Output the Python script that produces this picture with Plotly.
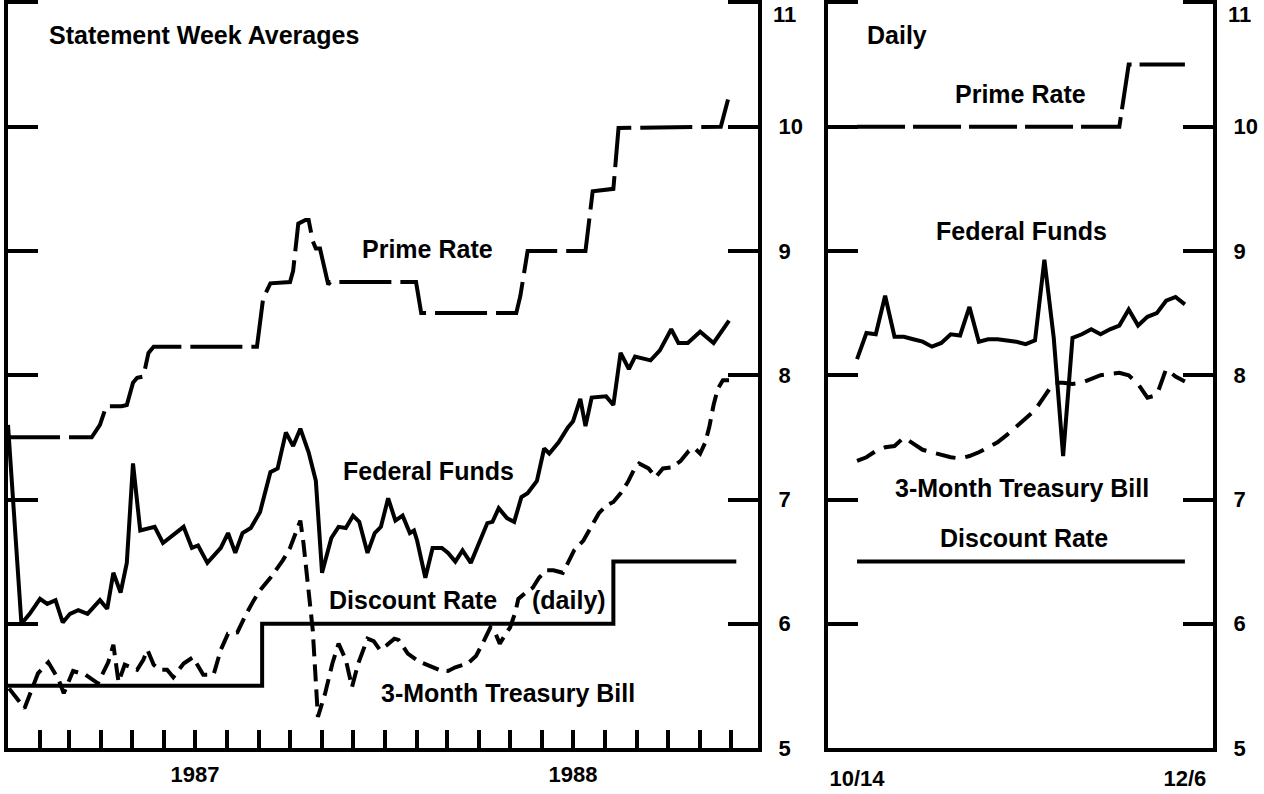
import plotly.graph_objects as go

# ---------------- Left panel: statement week averages ----------------
ff_dates = [
    "1987-01-01", "1987-01-14", "1987-01-22", "1987-02-01", "1987-02-08",
    "1987-02-16", "1987-02-23", "1987-03-02", "1987-03-10", "1987-03-19",
    "1987-03-31", "1987-04-07", "1987-04-13", "1987-04-20", "1987-04-26",
    "1987-05-02", "1987-05-09", "1987-05-23", "1987-05-31", "1987-06-20",
    "1987-06-28", "1987-07-04", "1987-07-13", "1987-07-26", "1987-08-02",
    "1987-08-09", "1987-08-16", "1987-08-24", "1987-09-02", "1987-09-12",
    "1987-09-19", "1987-09-27", "1987-10-04", "1987-10-11", "1987-10-19",
    "1987-10-26", "1987-11-01", "1987-11-10", "1987-11-17", "1987-11-24",
    "1987-12-01", "1987-12-07", "1987-12-15", "1987-12-22", "1987-12-28",
    "1988-01-04", "1988-01-11", "1988-01-18", "1988-01-25", "1988-01-29",
    "1988-02-01", "1988-02-09", "1988-02-16", "1988-02-25", "1988-03-02",
    "1988-03-09", "1988-03-16", "1988-03-24", "1988-04-02", "1988-04-09",
    "1988-04-14", "1988-04-20", "1988-04-28", "1988-05-05", "1988-05-12",
    "1988-05-18", "1988-05-27", "1988-06-03", "1988-06-08", "1988-06-17",
    "1988-06-26", "1988-07-01", "1988-07-08", "1988-07-13", "1988-07-19",
    "1988-08-02", "1988-08-09", "1988-08-16", "1988-08-24", "1988-08-30",
    "1988-09-14", "1988-09-23", "1988-10-04", "1988-10-11", "1988-10-20",
    "1988-11-01", "1988-11-14", "1988-11-19", "1988-11-29",
]
ff_vals = [
    7.60, 6.00, 6.08, 6.20, 6.16, 6.19, 6.01, 6.08, 6.11, 6.08,
    6.19, 6.12, 6.41, 6.25, 6.49, 7.29, 6.75, 6.78, 6.65, 6.78,
    6.61, 6.63, 6.49, 6.61, 6.73, 6.57, 6.73, 6.77, 6.90, 7.22,
    7.25, 7.54, 7.43, 7.57, 7.38, 7.15, 6.41, 6.69, 6.78, 6.77,
    6.87, 6.82, 6.57, 6.73, 6.78, 7.01, 6.83, 6.87, 6.73, 6.75,
    6.67, 6.37, 6.61, 6.61, 6.57, 6.50, 6.59, 6.49, 6.67, 6.81,
    6.82, 6.93, 6.85, 6.82, 7.02, 7.05, 7.15, 7.41, 7.37, 7.46,
    7.58, 7.63, 7.81, 7.59, 7.82, 7.83, 7.76, 8.18, 8.05, 8.15,
    8.12, 8.20, 8.37, 8.26, 8.26, 8.35, 8.26, 8.32, 8.44,
]

tb_dates = [
    "1987-01-02", "1987-01-17", "1987-01-30", "1987-02-09", "1987-02-19",
    "1987-02-24", "1987-03-05", "1987-03-17", "1987-03-29", "1987-04-08",
    "1987-04-13", "1987-04-18", "1987-04-24", "1987-05-01", "1987-05-06",
    "1987-05-12", "1987-05-16", "1987-05-22", "1987-05-28", "1987-06-04",
    "1987-06-10", "1987-06-20", "1987-06-29", "1987-07-09", "1987-07-19",
    "1987-07-26", "1987-08-02", "1987-08-11", "1987-08-19", "1987-08-27",
    "1987-09-02", "1987-09-12", "1987-09-24", "1987-10-01", "1987-10-08",
    "1987-10-11", "1987-10-14", "1987-10-19", "1987-10-23", "1987-10-28",
    "1987-11-04", "1987-11-11", "1987-11-17", "1987-11-24", "1987-11-30",
    "1987-12-06", "1987-12-15", "1987-12-21", "1987-12-27", "1988-01-03",
    "1988-01-10", "1988-01-14", "1988-01-23", "1988-02-02", "1988-02-11",
    "1988-02-22", "1988-03-02", "1988-03-09", "1988-03-21", "1988-03-29",
    "1988-04-05", "1988-04-12", "1988-04-17", "1988-04-21", "1988-04-27",
    "1988-05-01", "1988-05-06", "1988-05-09", "1988-05-16", "1988-05-23",
    "1988-05-29", "1988-06-05", "1988-06-12", "1988-06-21", "1988-06-26",
    "1988-07-02", "1988-07-11", "1988-07-18", "1988-07-26", "1988-08-02",
    "1988-08-09", "1988-08-16", "1988-08-23", "1988-08-29", "1988-09-03",
    "1988-09-12", "1988-09-19", "1988-09-26", "1988-10-05", "1988-10-13",
    "1988-10-21", "1988-10-27", "1988-11-01", "1988-11-06", "1988-11-10",
    "1988-11-14", "1988-11-18", "1988-11-23", "1988-11-29",
]
tb_vals = [
    5.48, 5.32, 5.60, 5.69, 5.55, 5.44, 5.62, 5.59, 5.52, 5.69,
    5.83, 5.53, 5.67, 5.65, 5.63, 5.71, 5.79, 5.67, 5.63, 5.63,
    5.57, 5.68, 5.73, 5.59, 5.59, 5.79, 5.92, 5.93, 6.07, 6.19,
    6.27, 6.37, 6.51, 6.61, 6.75, 6.83, 6.65, 6.29, 5.95, 5.25,
    5.44, 5.68, 5.84, 5.71, 5.49, 5.68, 5.88, 5.86, 5.79, 5.83,
    5.88, 5.87, 5.76, 5.70, 5.67, 5.63, 5.62, 5.65, 5.68, 5.74,
    5.85, 5.97, 5.92, 5.84, 5.92, 5.97, 6.09, 6.20, 6.25, 6.29,
    6.37, 6.43, 6.43, 6.41, 6.49, 6.59, 6.67, 6.77, 6.89, 6.95,
    6.98, 7.05, 7.14, 7.24, 7.29, 7.25, 7.18, 7.25, 7.26, 7.31,
    7.39, 7.41, 7.37, 7.46, 7.59, 7.76, 7.89, 7.96, 7.96,
]

prime_dates = [
    "1987-01-01", "1987-03-23", "1987-03-31", "1987-04-06", "1987-04-21",
    "1987-04-26", "1987-05-02", "1987-05-06", "1987-05-12", "1987-05-17",
    "1987-05-22", "1987-08-30", "1987-09-05", "1987-09-12", "1987-10-01",
    "1987-10-04", "1987-10-09", "1987-10-16", "1987-10-19", "1987-10-23",
    "1987-10-26", "1987-10-30", "1987-11-07", "1987-11-09", "1988-01-31",
    "1988-02-05", "1988-05-07", "1988-05-11", "1988-05-18", "1988-07-13",
    "1988-07-20", "1988-08-09", "1988-08-14", "1988-11-21", "1988-11-28",
]
prime_vals = [
    7.50, 7.50, 7.60, 7.75, 7.75, 7.76, 7.94, 7.98, 7.99, 8.18,
    8.23, 8.23, 8.62, 8.74, 8.75, 8.84, 9.22, 9.25, 9.25, 9.08,
    9.02, 9.02, 8.73, 8.75, 8.75, 8.50, 8.50, 8.64, 9.00, 9.00,
    9.48, 9.50, 9.99, 10.00, 10.22,
]

disc_dates = ["1987-01-01", "1987-09-04", "1988-08-09", "1988-12-06"]
disc_vals = [5.5, 6.0, 6.5, 6.5]

month_tick_dates = [
    "1987-02-01", "1987-03-01", "1987-04-01", "1987-05-01", "1987-06-01",
    "1987-07-01", "1987-08-01", "1987-09-01", "1987-10-01", "1987-11-01",
    "1987-12-01", "1988-01-01", "1988-02-01", "1988-03-01", "1988-04-01",
    "1988-05-01", "1988-06-01", "1988-07-01", "1988-08-01", "1988-09-01",
    "1988-10-01", "1988-11-01", "1988-12-01",
]
month_tick_labels = [
    "", "", "", "", "", "1987", "", "", "", "", "", "",
    "", "", "", "", "", "1988", "", "", "", "", "",
]

# ---------------- Right panel: daily ----------------
daily_days = [
    "10/14", "10/17", "10/18", "10/19", "10/20", "10/21", "10/24", "10/25",
    "10/26", "10/27", "10/28", "10/31", "11/1", "11/2", "11/3", "11/4",
    "11/7", "11/8", "11/9", "11/10", "11/14", "11/15", "11/16", "11/17",
    "11/18", "11/21", "11/22", "11/23", "11/25", "11/28", "11/29", "11/30",
    "12/1", "12/2", "12/5", "12/6",
]
daily_ff = [
    8.13, 8.34, 8.33, 8.64, 8.31, 8.31, 8.29, 8.27, 8.23, 8.26,
    8.33, 8.32, 8.55, 8.27, 8.29, 8.29, 8.28, 8.27, 8.25, 8.28,
    8.93, 8.30, 7.35, 8.30, 8.33, 8.37, 8.33, 8.37, 8.40, 8.53,
    8.40, 8.47, 8.50, 8.60, 8.63, 8.57,
]
daily_tb = [
    7.31, 7.34, 7.39, 7.42, 7.43, 7.50, 7.45, 7.40, 7.38, 7.36,
    7.34, 7.33, 7.35, 7.38, 7.42, 7.46, 7.52, 7.59, 7.65, 7.72,
    7.83, 7.94, 7.94, 7.93, 7.94, 7.97, 8.00, 8.01, 8.02, 8.00,
    7.93, 7.82, 7.84, 8.05, 7.99, 7.95,
]
daily_prime = [
    10.0, 10.0, 10.0, 10.0, 10.0, 10.0, 10.0, 10.0, 10.0, 10.0,
    10.0, 10.0, 10.0, 10.0, 10.0, 10.0, 10.0, 10.0, 10.0, 10.0,
    10.0, 10.0, 10.0, 10.0, 10.0, 10.0, 10.0, 10.0, 10.0, 10.5,
    10.5, 10.5, 10.5, 10.5, 10.5, 10.5,
]
daily_disc = [
    6.5, 6.5, 6.5, 6.5, 6.5, 6.5, 6.5, 6.5, 6.5, 6.5,
    6.5, 6.5, 6.5, 6.5, 6.5, 6.5, 6.5, 6.5, 6.5, 6.5,
    6.5, 6.5, 6.5, 6.5, 6.5, 6.5, 6.5, 6.5, 6.5, 6.5,
    6.5, 6.5, 6.5, 6.5, 6.5, 6.5,
]

y_ticks = [5, 6, 7, 8, 9, 10, 11]
y_tick_labels = ["5", "6", "7", "8", "9", "10", ""]   # "11" drawn just below the top edge
top_label = "11"

FONT = "Liberation Sans"
BLACK = "#000000"
LW = 4

fig = go.Figure()

# left panel traces
fig.add_trace(go.Scatter(x=prime_dates, y=prime_vals, mode="lines",
                         line=dict(color=BLACK, width=LW, dash="52px,9px"),
                         xaxis="x", yaxis="y", showlegend=False))
fig.add_trace(go.Scatter(x=ff_dates, y=ff_vals, mode="lines",
                         line=dict(color=BLACK, width=LW),
                         xaxis="x", yaxis="y", showlegend=False))
fig.add_trace(go.Scatter(x=tb_dates, y=tb_vals, mode="lines",
                         line=dict(color=BLACK, width=LW, dash="17px,8px"),
                         xaxis="x", yaxis="y", showlegend=False))
fig.add_trace(go.Scatter(x=disc_dates, y=disc_vals, mode="lines",
                         line=dict(color=BLACK, width=LW, shape="hv"),
                         xaxis="x", yaxis="y", showlegend=False))

# right panel traces
fig.add_trace(go.Scatter(x=daily_days, y=daily_prime, mode="lines",
                         line=dict(color=BLACK, width=LW, dash="48px,8px"),
                         xaxis="x2", yaxis="y2", showlegend=False))
fig.add_trace(go.Scatter(x=daily_days, y=daily_ff, mode="lines",
                         line=dict(color=BLACK, width=LW),
                         xaxis="x2", yaxis="y2", showlegend=False))
fig.add_trace(go.Scatter(x=daily_days, y=daily_tb, mode="lines",
                         line=dict(color=BLACK, width=LW, dash="20px,10px"),
                         xaxis="x2", yaxis="y2", showlegend=False))
fig.add_trace(go.Scatter(x=daily_days, y=daily_disc, mode="lines",
                         line=dict(color=BLACK, width=LW),
                         xaxis="x2", yaxis="y2", showlegend=False))

tickfont = dict(family=FONT, size=22, color=BLACK, weight="bold")

yaxis_common = dict(
    range=[5, 11.02], tickvals=y_ticks, ticktext=y_tick_labels,
    side="right", ticks="inside", ticklen=30, tickwidth=4, tickcolor=BLACK,
    showline=True, linewidth=4, linecolor=BLACK, mirror="ticks",
    showgrid=False, zeroline=False, tickfont=tickfont,
    ticklabelstandoff=12, ticklabeloverflow="allow", fixedrange=True,
    automargin=False,
)

fig.update_layout(
    width=1264, height=794,
    margin=dict(l=8, r=51, t=0, b=46, autoexpand=False),
    paper_bgcolor="white", plot_bgcolor="white",
    xaxis=dict(
        domain=[0, 0.6224], type="date",
        range=["1987-01-01", "1988-12-27"],
        tickvals=month_tick_dates, ticktext=month_tick_labels,
        ticks="inside", ticklen=18, tickwidth=4, tickcolor=BLACK,
        showline=True, linewidth=4, linecolor=BLACK, mirror=False,
        showgrid=False, zeroline=False, tickfont=tickfont,
        ticklabelstandoff=4, anchor="y", fixedrange=True, automargin=False,
    ),
    yaxis=dict(anchor="x", **yaxis_common),
    xaxis2=dict(
        domain=[0.6805, 1.0], type="category",
        range=[-3.1, 38.0],
        tickvals=["10/14", "12/6"], ticktext=["10/14", "12/6"],
        ticks="", showline=True, linewidth=4, linecolor=BLACK, mirror=False,
        showgrid=False, zeroline=False, tickfont=tickfont,
        ticklabelstandoff=8, anchor="y2", fixedrange=True, automargin=False,
    ),
    yaxis2=dict(anchor="x2", **yaxis_common),
)

label_font = dict(family=FONT, size=25, color=BLACK, weight="bold")

annotations = [
    dict(x="1987-02-08", y=10.74, xref="x", yref="y", text="Statement Week Averages", xanchor="left"),
    dict(x="1988-02-11", y=9.02, xref="x", yref="y", text="Prime Rate", xanchor="center"),
    dict(x="1988-02-12", y=7.23, xref="x", yref="y", text="Federal Funds", xanchor="center"),
    dict(x="1988-01-28", y=6.19, xref="x", yref="y", text="Discount Rate", xanchor="center"),
    dict(x="1988-06-27", y=6.19, xref="x", yref="y", text="(daily)", xanchor="center"),
    dict(x="1988-04-29", y=5.44, xref="x", yref="y", text="3-Month Treasury Bill", xanchor="center"),
    dict(x=0.85, y=10.74, xref="x2", yref="y2", text="Daily", xanchor="left"),
    dict(x=17.5, y=10.26, xref="x2", yref="y2", text="Prime Rate", xanchor="center"),
    dict(x=17.6, y=9.16, xref="x2", yref="y2", text="Federal Funds", xanchor="center"),
    dict(x=17.6, y=7.09, xref="x2", yref="y2", text="3-Month Treasury Bill", xanchor="center"),
    dict(x=17.8, y=6.69, xref="x2", yref="y2", text="Discount Rate", xanchor="center"),
]
for a in annotations:
    a.update(showarrow=False, yanchor="middle", font=label_font)

# top "11" labels for both panels (kept fully inside the page)
for xr, yr in (("x domain", "y"), ("x2 domain", "y2")):
    annotations.append(dict(x=1, y=11, xref=xr, yref=yr, text=top_label,
                            xanchor="left", yanchor="top", xshift=13, yshift=2,
                            showarrow=False, font=tickfont))

fig.update_layout(annotations=annotations)

fig.write_html("out.html",
               config={"displayModeBar": False},
               post_script="document.body.style.margin='0px';document.body.style.padding='0px';")
